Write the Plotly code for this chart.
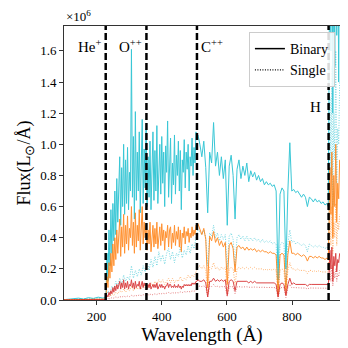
import plotly.graph_objects as go

# wavelength grid (Angstrom) for the single-star spectra
wavelength = [
    100, 115, 130, 145, 160, 175, 190, 205, 220, 227,
    229, 235, 241, 247, 253, 259, 265, 271, 277, 283,
    289, 295, 301, 307, 313, 319, 325, 331, 337, 343,
    349, 355, 361, 367, 373, 379, 385, 391, 397, 403,
    409, 415, 421, 427, 433, 439, 445, 451, 457, 463,
    469, 475, 481, 487, 493, 499, 505, 511, 517, 523,
    529, 535, 541, 547, 553, 559, 565, 571, 577, 583,
    589, 595, 601, 607, 613, 619, 625, 631, 637, 643,
    649, 655, 661, 667, 673, 679, 685, 691, 697, 703,
    709, 715, 721, 727, 733, 739, 745, 751, 757, 763,
    769, 775, 781, 787, 793, 799, 805, 811, 817, 823,
    829, 835, 841, 847, 853, 859, 865, 871, 877, 883,
    889, 895, 901, 907, 911,
    913, 916, 919, 922, 925, 928, 931, 934, 937, 940, 943, 946,
]

# finer grid for the binary spectra (noisier below the C++ edge)
wavelength_binary = [
    100, 115, 130, 145, 160, 175, 190, 205, 220, 227,
    229, 232, 235, 238, 241, 244, 247, 250, 253, 256,
    259, 262, 265, 268, 271, 274, 277, 280, 283, 286,
    289, 292, 295, 298, 301, 304, 307, 310, 313, 316,
    319, 322, 325, 328, 331, 334, 337, 340, 343, 346,
    349, 352, 355, 358, 361, 364, 367, 370, 373, 376,
    379, 382, 385, 388, 391, 394, 397, 400, 403, 406,
    409, 412, 415, 418, 421, 424, 427, 430, 433, 436,
    439, 442, 445, 448, 451, 454, 457, 460, 463, 466,
    469, 472, 475, 478, 481, 484, 487, 490, 493, 496,
    499, 502, 505, 508, 511,
    517, 523,
    529, 535, 541, 547, 553, 559, 565, 571, 577, 583,
    589, 595, 601, 607, 613, 619, 625, 631, 637, 643,
    649, 655, 661, 667, 673, 679, 685, 691, 697, 703,
    709, 715, 721, 727, 733, 739, 745, 751, 757, 763,
    769, 775, 781, 787, 793, 799, 805, 811, 817, 823,
    829, 835, 841, 847, 853, 859, 865, 871, 877, 883,
    889, 895, 901, 907, 911,
    913, 916, 919, 922, 925, 928, 931, 934, 937, 940, 943, 946,
]

# flux in units of 1e6 L_sun / Angstrom
cyan_binary = [
    0.002, 0.004, 0.008, 0.012, 0.006, 0.015, 0.010, 0.018, 0.012, 0.020,
    0.04, 0.30, 0.12, 0.45, 0.22, 0.58, 0.30, 0.62, 0.38, 0.70,
    0.42, 0.78, 0.50, 0.66, 0.92, 0.48, 0.85, 0.60, 1.00, 0.55,
    0.90, 0.62, 0.98, 0.58, 0.82, 0.70, 1.61, 0.66, 1.05, 0.52,
    1.21, 0.64, 0.95, 0.70, 1.08, 0.56, 0.88, 1.16, 0.62, 0.97,
    0.72, 1.10, 0.60, 0.92, 0.66, 1.02, 0.58, 0.86, 1.08, 0.64,
    0.96, 0.70, 1.12, 0.62, 0.90, 1.00, 0.68, 1.05, 0.75, 0.95,
    0.60, 0.99, 0.82, 1.15, 0.66, 0.94, 1.04, 0.62, 0.88, 0.74,
    1.06, 0.68, 0.93, 0.80, 1.02, 0.70, 0.96, 0.58, 0.90, 0.82,
    1.03, 0.72, 0.95, 0.84, 1.00, 0.70, 0.92, 0.86, 1.04, 0.80,
    0.98, 0.88, 1.08, 1.04, 1.06,
    1.00, 0.92,
    1.02, 0.85, 0.56, 0.95, 0.88, 1.14, 0.86, 0.95, 0.80, 0.92,
    0.78, 0.90, 0.48, 0.86, 0.93, 0.80, 0.52, 0.84, 0.90, 0.78,
    0.86, 0.80, 0.88, 0.76, 0.83, 0.79, 0.82, 0.77, 0.80, 0.76,
    0.78, 0.74, 0.76, 0.74, 0.75, 0.73, 0.74, 0.70, 0.13, 0.68,
    0.72, 0.70, 0.20, 0.70, 1.01, 0.70, 0.71, 0.69, 0.70, 0.68,
    0.66, 0.68, 0.66, 0.60, 0.66, 0.65, 0.63, 0.65, 0.63, 0.64,
    0.62, 0.63, 0.61, 0.62, 0.60,
    1.30, 2.40, 1.60, 2.80, 1.20, 2.20, 1.50, 3.00, 1.70, 2.50, 1.40, 2.60,
]
orange_binary = [
    0.001, 0.002, 0.003, 0.004, 0.002, 0.005, 0.003, 0.006, 0.004, 0.006,
    0.02, 0.15, 0.08, 0.24, 0.14, 0.30, 0.18, 0.36, 0.22, 0.40,
    0.26, 0.45, 0.30, 0.38, 0.52, 0.28, 0.47, 0.34, 0.55, 0.30,
    0.48, 0.36, 0.54, 0.32, 0.46, 0.40, 0.60, 0.35, 0.50, 0.30,
    0.56, 0.34, 0.48, 0.38, 0.58, 0.32, 0.46, 0.60, 0.36, 0.50,
    0.40, 0.48, 0.32, 0.45, 0.36, 0.50, 0.31, 0.44, 0.48, 0.34,
    0.46, 0.36, 0.50, 0.33, 0.44, 0.47, 0.35, 0.49, 0.38, 0.45,
    0.32, 0.44, 0.40, 0.48, 0.34, 0.45, 0.47, 0.33, 0.43, 0.37,
    0.48, 0.35, 0.44, 0.39, 0.47, 0.34, 0.45, 0.31, 0.43, 0.40,
    0.47, 0.36, 0.44, 0.41, 0.46, 0.37, 0.43, 0.40, 0.47, 0.41,
    0.45, 0.42, 0.48, 0.47, 0.49,
    0.45, 0.42,
    0.46, 0.39, 0.08, 0.41, 0.38, 0.44, 0.37, 0.40, 0.35, 0.38,
    0.34, 0.37, 0.10, 0.35, 0.37, 0.33, 0.18, 0.34, 0.35, 0.33,
    0.34, 0.32, 0.34, 0.32, 0.33, 0.32, 0.33, 0.31, 0.32, 0.31,
    0.32, 0.31, 0.31, 0.30, 0.31, 0.30, 0.30, 0.29, 0.04, 0.29,
    0.30, 0.29, 0.06, 0.29, 0.38, 0.30, 0.30, 0.29, 0.30, 0.29,
    0.28, 0.29, 0.28, 0.25, 0.28, 0.28, 0.27, 0.28, 0.27, 0.28,
    0.27, 0.27, 0.26, 0.27, 0.26,
    0.45, 0.85, 0.55, 0.95, 0.40, 0.80, 0.60, 1.00, 0.50, 0.75, 0.65, 0.90,
]
red_binary = [
    0.0, 0.0, 0.001, 0.001, 0.001, 0.002, 0.001, 0.002, 0.002, 0.003,
    0.01, 0.03, 0.02, 0.05, 0.03, 0.06, 0.04, 0.08, 0.05, 0.09,
    0.06, 0.10, 0.07, 0.09, 0.12, 0.07, 0.11, 0.08, 0.13, 0.07,
    0.11, 0.08, 0.12, 0.07, 0.10, 0.09, 0.13, 0.08, 0.11, 0.07,
    0.12, 0.08, 0.10, 0.09, 0.12, 0.07, 0.10, 0.12, 0.08, 0.11,
    0.09, 0.10, 0.07, 0.10, 0.08, 0.11, 0.07, 0.09, 0.10, 0.08,
    0.10, 0.08, 0.11, 0.07, 0.09, 0.10, 0.08, 0.10, 0.08, 0.09,
    0.07, 0.09, 0.09, 0.11, 0.08, 0.10, 0.10, 0.08, 0.09, 0.08,
    0.10, 0.08, 0.09, 0.08, 0.10, 0.08, 0.09, 0.07, 0.09, 0.08,
    0.10, 0.09, 0.10, 0.09, 0.10, 0.09, 0.10, 0.09, 0.11, 0.10,
    0.11, 0.10, 0.12, 0.12, 0.13,
    0.12, 0.12,
    0.13, 0.11, 0.02, 0.12, 0.12, 0.14, 0.12, 0.13, 0.12, 0.13,
    0.12, 0.13, 0.03, 0.12, 0.13, 0.12, 0.06, 0.12, 0.12, 0.12,
    0.12, 0.12, 0.12, 0.11, 0.12, 0.11, 0.12, 0.11, 0.11, 0.11,
    0.11, 0.11, 0.11, 0.11, 0.11, 0.11, 0.11, 0.10, 0.02, 0.10,
    0.11, 0.10, 0.03, 0.10, 0.14, 0.10, 0.11, 0.10, 0.10, 0.10,
    0.10, 0.10, 0.10, 0.09, 0.10, 0.10, 0.10, 0.10, 0.10, 0.10,
    0.10, 0.10, 0.10, 0.10, 0.10,
    0.15, 0.32, 0.20, 0.34, 0.12, 0.28, 0.22, 0.30, 0.18, 0.26, 0.24, 0.30,
]

cyan_single = [
    0.001, 0.002, 0.004, 0.006, 0.003, 0.008, 0.005, 0.009, 0.006, 0.010,
    0.02, 0.06, 0.04, 0.09, 0.07, 0.12, 0.09, 0.14, 0.10, 0.16,
    0.12, 0.15, 0.13, 0.22, 0.14, 0.19, 0.15, 0.20, 0.16, 0.22,
    0.18, 0.24, 0.19, 0.26, 0.21, 0.28, 0.22, 0.31, 0.25, 0.29,
    0.23, 0.30, 0.33, 0.26, 0.31, 0.24, 0.30, 0.28, 0.34, 0.27,
    0.32, 0.29, 0.35, 0.30, 0.36, 0.33, 0.40, 0.45, 0.44, 0.42,
    0.45, 0.40, 0.22, 0.43, 0.41, 0.48, 0.40, 0.43, 0.38, 0.42,
    0.39, 0.42, 0.20, 0.41, 0.43, 0.39, 0.22, 0.40, 0.42, 0.39,
    0.41, 0.38, 0.41, 0.38, 0.40, 0.38, 0.40, 0.38, 0.39, 0.37,
    0.39, 0.37, 0.38, 0.37, 0.38, 0.36, 0.37, 0.36, 0.05, 0.35,
    0.37, 0.36, 0.08, 0.36, 0.45, 0.37, 0.38, 0.36, 0.37, 0.36,
    0.35, 0.36, 0.35, 0.31, 0.36, 0.35, 0.34, 0.35, 0.34, 0.35,
    0.34, 0.34, 0.33, 0.34, 0.33,
    0.70, 1.30, 0.80, 1.50, 0.60, 1.20, 0.90, 1.60, 0.75, 1.10, 1.00, 1.40,
]
orange_single = [
    0.0005, 0.001, 0.001, 0.002, 0.001, 0.002, 0.002, 0.003, 0.002, 0.003,
    0.01, 0.03, 0.02, 0.04, 0.03, 0.05, 0.04, 0.06, 0.05, 0.07,
    0.05, 0.07, 0.06, 0.09, 0.06, 0.08, 0.07, 0.09, 0.07, 0.10,
    0.08, 0.10, 0.08, 0.11, 0.09, 0.12, 0.10, 0.13, 0.11, 0.13,
    0.10, 0.12, 0.14, 0.11, 0.14, 0.11, 0.13, 0.12, 0.15, 0.12,
    0.14, 0.13, 0.16, 0.14, 0.16, 0.15, 0.18, 0.21, 0.22, 0.20,
    0.22, 0.19, 0.04, 0.21, 0.20, 0.24, 0.20, 0.21, 0.19, 0.21,
    0.20, 0.21, 0.05, 0.20, 0.21, 0.20, 0.10, 0.20, 0.21, 0.20,
    0.21, 0.20, 0.21, 0.20, 0.21, 0.20, 0.21, 0.20, 0.20, 0.20,
    0.20, 0.19, 0.20, 0.19, 0.20, 0.19, 0.20, 0.19, 0.02, 0.19,
    0.20, 0.19, 0.03, 0.19, 0.24, 0.20, 0.20, 0.19, 0.20, 0.19,
    0.19, 0.19, 0.19, 0.17, 0.19, 0.19, 0.18, 0.19, 0.18, 0.19,
    0.18, 0.18, 0.18, 0.18, 0.18,
    0.30, 0.55, 0.35, 0.60, 0.30, 0.50, 0.40, 0.62, 0.35, 0.50, 0.45, 0.55,
]
red_single = [
    0.0, 0.0, 0.0, 0.001, 0.0, 0.001, 0.001, 0.001, 0.001, 0.001,
    0.005, 0.01, 0.008, 0.015, 0.012, 0.02, 0.015, 0.022, 0.018, 0.025,
    0.02, 0.025, 0.022, 0.03, 0.024, 0.03, 0.026, 0.032, 0.028, 0.034,
    0.03, 0.036, 0.032, 0.038, 0.033, 0.04, 0.035, 0.042, 0.038, 0.044,
    0.04, 0.045, 0.048, 0.042, 0.048, 0.043, 0.048, 0.046, 0.052, 0.048,
    0.054, 0.05, 0.056, 0.052, 0.058, 0.056, 0.062, 0.085, 0.09, 0.086,
    0.09, 0.084, 0.02, 0.088, 0.086, 0.10, 0.085, 0.088, 0.084, 0.087,
    0.084, 0.087, 0.02, 0.085, 0.087, 0.084, 0.04, 0.084, 0.086, 0.083,
    0.085, 0.083, 0.085, 0.082, 0.084, 0.082, 0.083, 0.081, 0.082, 0.081,
    0.082, 0.080, 0.081, 0.080, 0.081, 0.080, 0.080, 0.079, 0.01, 0.079,
    0.080, 0.079, 0.015, 0.079, 0.10, 0.079, 0.080, 0.078, 0.079, 0.078,
    0.077, 0.078, 0.077, 0.07, 0.077, 0.077, 0.076, 0.077, 0.076, 0.077,
    0.076, 0.076, 0.075, 0.076, 0.075,
    0.10, 0.20, 0.12, 0.22, 0.09, 0.18, 0.14, 0.20, 0.12, 0.17, 0.15, 0.19,
]

# ionisation edges
edge_wl = [228, 353, 508, 912]
edge_labels = ["He<sup>+</sup>", "O<sup>++</sup>", "C<sup>++</sup>", "H"]

FONT = "Liberation Serif"
colors = {"cyan": "#17becf", "orange": "#ff7f0e", "red": "#d62728"}

fig = go.Figure()

series = [
    (cyan_binary, cyan_single, colors["cyan"]),
    (orange_binary, orange_single, colors["orange"]),
    (red_binary, red_single, colors["red"]),
]
for binary, single, c in series:
    fig.add_trace(go.Scatter(x=wavelength_binary, y=binary, mode="lines",
                             line=dict(color=c, width=1), opacity=0.85,
                             showlegend=False, hoverinfo="skip"))
    fig.add_trace(go.Scatter(x=wavelength, y=single, mode="lines",
                             line=dict(color=c, width=1, dash="1px,1.5px"), opacity=0.6,
                             showlegend=False, hoverinfo="skip"))

# legend handles
fig.add_trace(go.Scatter(x=[None], y=[None], mode="lines", name="Binary",
                         line=dict(color="black", width=1.5)))
fig.add_trace(go.Scatter(x=[None], y=[None], mode="lines", name="Single",
                         line=dict(color="black", width=1.2, dash="1px,1.5px")))

for wl in edge_wl:
    fig.add_vline(x=wl, line=dict(color="black", width=2.5, dash="7px,3px"))

# edge labels
label_pos = [
    dict(y=1.63, xanchor="right", xshift=-2),
    dict(y=1.63, xanchor="right", xshift=-2),
    dict(y=1.63, xanchor="left", xshift=2),
    dict(y=1.24, xanchor="right", xshift=-6),
]
for wl, txt, p in zip(edge_wl, edge_labels, label_pos):
    fig.add_annotation(x=wl, y=p["y"], text=txt, showarrow=False,
                       xanchor=p["xanchor"], xshift=p["xshift"], yanchor="middle",
                       font=dict(family=FONT, size=15, color="black"))

fig.add_annotation(x=0, y=1, xref="paper", yref="paper", text="×10<sup>6</sup>",
                   showarrow=False, xanchor="left", yanchor="bottom",
                   font=dict(family=FONT, size=13, color="black"))

axis_common = dict(showline=True, linecolor="#333", linewidth=1, mirror=True,
                   ticks="outside", ticklen=4, tickcolor="#333",
                   showgrid=False, zeroline=False,
                   tickfont=dict(family=FONT, size=13, color="black"))

fig.update_xaxes(range=[100, 947], tickvals=[200, 400, 600, 800],
                 title=dict(text="Wavelength (Å)", font=dict(family=FONT, size=19, color="black"),
                            standoff=4),
                 **axis_common)
fig.update_yaxes(range=[0, 1.76], tickvals=[0, 0.2, 0.4, 0.6, 0.8, 1.0, 1.2, 1.4, 1.6],
                 tickformat=".1f",
                 title=dict(text="Flux(L<sub>⊙</sub>/Å)", font=dict(family=FONT, size=18, color="black"),
                            standoff=4),
                 **axis_common)

# the page body adds 8px around the figure, so the figure is 340px
fig.update_layout(
    width=340, height=340,
    margin=dict(l=56, r=7, t=18, b=40),
    plot_bgcolor="white", paper_bgcolor="white",
    legend=dict(x=0.67, y=0.978, xanchor="left", yanchor="top",
                bgcolor="rgba(255,255,255,0.85)", bordercolor="#ccc", borderwidth=1,
                font=dict(family=FONT, size=14, color="black"),
                tracegroupgap=0, itemwidth=30),
)

fig.write_html("out.html")
